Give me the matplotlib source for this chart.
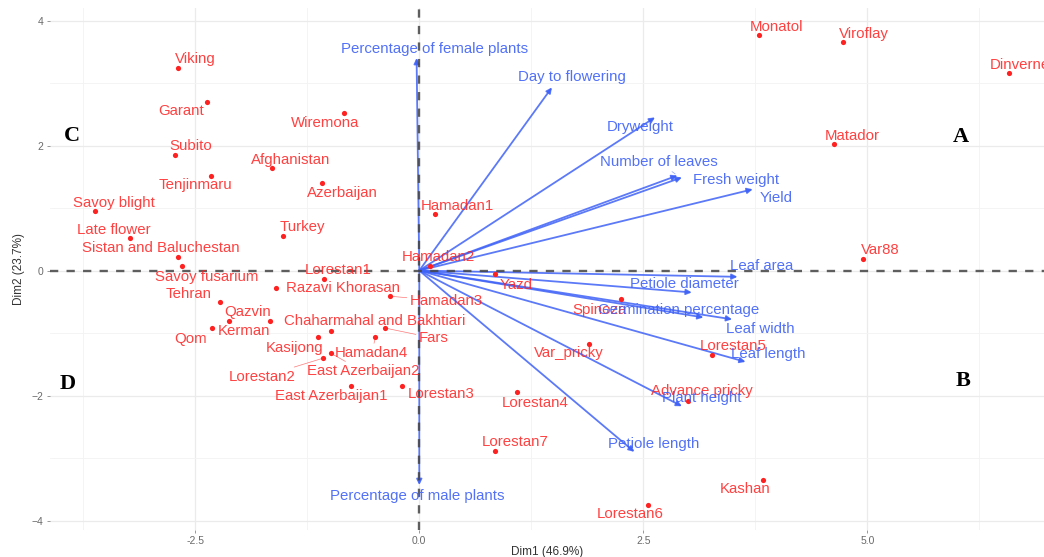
import matplotlib.pyplot as plt
import numpy as np

plt.rcParams['font.family'] = ['Liberation Sans', 'DejaVu Sans']

# individuals (PCA scores)
names = ['Viking', 'Garant', 'Wiremona', 'Subito', 'Afghanistan', 'Tenjinmaru',
         'Azerbaijan', 'Savoy blight', 'Late flower', 'Turkey', 'Sistan and Baluchestan',
         'Savoy fusarium', 'Lorestan1', 'Razavi Khorasan', 'Hamadan3', 'Tehran',
         'Qazvin', 'Kerman', 'Qom', 'Chaharmahal and Bakhtiari', 'Kasijong',
         'Hamadan4', 'Fars', 'East Azerbaijan2', 'Lorestan2', 'East Azerbaijan1',
         'Lorestan3', 'Lorestan4', 'Lorestan7', 'Lorestan6', 'Kashan',
         'Advance pricky', 'Lorestan5', 'Var_pricky', 'Spinoza', 'Yazd',
         'Hamadan2', 'Hamadan1', 'Monatol', 'Viroflay', 'Dinverne', 'Matador', 'Var88']
dim1 = [-2.69, -2.37, -0.84, -2.73, -1.64, -2.32,
        -1.08, -3.62, -3.23, -1.52, -2.69,
        -2.65, -1.06, -1.60, -0.33, -2.22,
        -1.67, -2.12, -2.31, -0.99, -1.13,
        -0.49, -0.38, -0.99, -1.07, -0.76,
        -0.19, 1.09, 0.85, 2.55, 3.83,
        3.00, 3.27, 1.89, 2.25, 0.85,
        0.12, 0.18, 3.79, 4.73, 6.58, 4.63, 4.95]
dim2 = [3.24, 2.70, 2.52, 1.85, 1.64, 1.51,
        1.40, 0.95, 0.52, 0.55, 0.22,
        0.07, -0.14, -0.28, -0.41, -0.50,
        -0.81, -0.81, -0.92, -0.96, -1.07,
        -1.07, -0.92, -1.32, -1.40, -1.85,
        -1.85, -1.95, -2.88, -3.75, -3.35,
        -2.09, -1.35, -1.18, -0.46, -0.06,
        0.08, 0.91, 3.77, 3.65, 3.16, 2.02, 0.18]

# where the (repelled) labels sit
lab_x = [-2.50, -2.66, -1.05, -2.55, -1.43, -2.50,
         -0.86, -3.41, -3.41, -1.30, -2.88,
         -2.37, -0.90, -0.85, 0.30, -2.57,
         -1.91, -1.95, -2.55, -0.50, -1.39,
         -0.53, 0.16, -0.63, -1.75, -0.98,
         0.24, 1.29, 1.07, 2.35, 3.63,
         3.15, 3.50, 1.67, 2.01, 1.08,
         0.21, 0.42, 3.99, 4.96, 6.70, 4.83, 5.14]
lab_y = [3.38, 2.55, 2.36, 1.99, 1.77, 1.37,
         1.24, 1.08, 0.65, 0.70, 0.36,
         -0.10, 0.01, -0.28, -0.49, -0.38,
         -0.67, -0.97, -1.10, -0.80, -1.24,
         -1.32, -1.08, -1.61, -1.70, -2.01,
         -1.98, -2.12, -2.74, -3.90, -3.50,
         -1.93, -1.21, -1.32, -0.63, -0.23,
         0.22, 1.03, 3.90, 3.79, 3.29, 2.15, 0.33]
with_segment = ['Hamadan3', 'Chaharmahal and Bakhtiari', 'Fars', 'Hamadan4',
                'East Azerbaijan2', 'Lorestan2']

# variables (loadings, scaled)
variables = ['Percentage of female plants', 'Day to flowering', 'Dryweight',
             'Number of leaves', 'Fresh weight', 'Yield', 'Leaf area',
             'Petiole diameter', 'Germination percentage', 'Leaf width',
             'Leaf length', 'Plant height', 'Petiole length',
             'Percentage of male plants']
var1 = [-0.03, 1.48, 2.63, 2.88, 2.93, 3.72, 3.55, 3.04, 3.17, 3.49, 3.64, 2.93, 2.40, 0.00]
var2 = [3.40, 2.93, 2.45, 1.52, 1.49, 1.30, -0.10, -0.35, -0.75, -0.78, -1.46, -2.17, -2.90, -3.43]
var_lab_x = [0.17, 1.70, 2.46, 2.67, 3.53, 3.98, 3.82, 2.96, 2.89, 3.81, 3.89, 3.15, 2.61, -0.02]
var_lab_y = [3.54, 3.10, 2.30, 1.74, 1.45, 1.16, 0.07, -0.22, -0.63, -0.94, -1.34, -2.04, -2.78, -3.61]

quadrants = ['A', 'B', 'C', 'D']
quad_x = [6.04, 6.07, -3.88, -3.92]
quad_y = [2.13, -1.77, 2.15, -1.82]

red = '#FF2020'
blue = '#3F62F7'
fs = 10.8

fig = plt.figure(figsize=(10.44, 5.57), dpi=100)
ax = fig.add_axes([50 / 1044, 27 / 557, 994 / 1044, 522 / 557])

ax.set_xlim(-4.12, 6.97)
ax.set_ylim(-4.15, 4.2)
ax.set_xticks([-2.5, 0, 2.5, 5.0])
ax.set_xticklabels(['-2.5', '0.0', '2.5', '5.0'])
ax.set_yticks([-4, -2, 0, 2, 4])
ax.set_xticks([-3.75, -1.25, 1.25, 3.75, 6.25], minor=True)
ax.set_yticks([-3, -1, 1, 3], minor=True)
ax.grid(True, which='major', color='#EBEBEB', lw=0.9, zorder=0)
ax.grid(True, which='minor', color='#F3F3F3', lw=0.6, zorder=0)
ax.set_axisbelow(True)
for s in ax.spines.values():
    s.set_visible(False)
ax.tick_params(which='major', length=2.5, width=0.6, color='#888888',
               labelsize=7.5, labelcolor='#6A6A6A', pad=2)
ax.tick_params(which='minor', length=0)
ax.set_xlabel('Dim1 (46.9%)', fontsize=8.5, color='#333333', labelpad=0)
ax.set_ylabel('Dim2 (23.7%)', fontsize=8.5, color='#333333', labelpad=5)

# variable arrows
for vx, vy in zip(var1, var2):
    ax.annotate('', xy=(vx, vy), xytext=(0, 0),
                arrowprops=dict(arrowstyle='-|>', color=blue, lw=1.3, alpha=0.85,
                                mutation_scale=8, shrinkA=0, shrinkB=0), zorder=2)

# reference lines
ax.axhline(0, color='#444444', ls=(0, (3.5, 3.5)), lw=1.7, alpha=0.85, zorder=3)
ax.axvline(0, color='#444444', ls=(0, (3.5, 3.5)), lw=1.7, alpha=0.85, zorder=3)

for name, vx, vy, lx, ly in zip(variables, var1, var2, var_lab_x, var_lab_y):
    if name == 'Number of leaves':
        ax.annotate(name, xy=(vx, vy), xytext=(lx, ly), ha='center', va='center',
                    fontsize=fs, color=blue, alpha=0.9, zorder=5,
                    arrowprops=dict(arrowstyle='-', color=blue, lw=0.5, alpha=0.6,
                                    shrinkA=0, shrinkB=2))
    else:
        ax.text(lx, ly, name, ha='center', va='center', fontsize=fs,
                color=blue, alpha=0.9, zorder=5)

# individuals
ax.scatter(dim1, dim2, s=14, color=red, zorder=4, linewidths=0)
for name, x, y, lx, ly in zip(names, dim1, dim2, lab_x, lab_y):
    if name in with_segment:
        ax.annotate(name, xy=(x, y), xytext=(lx, ly), ha='center', va='center',
                    fontsize=fs, color=red, alpha=0.85, zorder=4,
                    arrowprops=dict(arrowstyle='-', color=red, lw=0.5, alpha=0.6,
                                    shrinkA=0, shrinkB=2))
    else:
        ax.text(lx, ly, name, ha='center', va='center', fontsize=fs,
                color=red, alpha=0.85, zorder=4, clip_on=False)

for q, qx, qy in zip(quadrants, quad_x, quad_y):
    ax.text(qx, qy, q, ha='center', va='center', fontsize=16, fontweight='bold',
            family='Liberation Serif', color='black', zorder=6)

fig.savefig('out.png', dpi=100)
